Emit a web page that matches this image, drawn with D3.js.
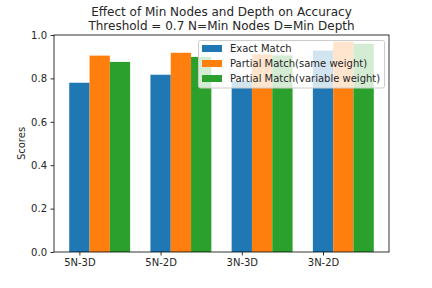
<!DOCTYPE html>
<html><head><meta charset="utf-8">
<script src="https://cdn.jsdelivr.net/npm/d3@7"></script>
<style>body{margin:0;background:#fff}svg{display:block;font-family:"DejaVu Sans",sans-serif}</style>
</head><body><svg id="c" width="432" height="288"></svg>
<script>
const categories = ["5N-3D", "5N-2D", "3N-3D", "3N-2D"];
const seriesNames = ["Exact Match", "Partial Match(same weight)", "Partial Match(variable weight)"];
const exactMatch = [0.780, 0.817, 0.789, 0.928];
const partialSame = [0.905, 0.918, 0.911, 0.969];
const partialVariable = [0.876, 0.899, 0.906, 0.960];
const colors = ["#1f77b4", "#ff7f0e", "#2ca02c"];
const yTicks = [0.0, 0.2, 0.4, 0.6, 0.8, 1.0];
const titleLines = ["Effect of Min Nodes and Depth on Accuracy", "Threshold = 0.7 N=Min Nodes D=Min Depth"];

const series = [exactMatch, partialSame, partialVariable];
const svg = d3.select("#c");
const L = 54, R = 389, T = 35, B = 252;
const w = 0.25;
const x = d3.scaleLinear().domain([-0.3125, 3.8125]).range([L, R]);
const y = d3.scaleLinear().domain([0, 1]).range([B, T]);

// bars
series.forEach((vals, s) => {
  svg.append("g").selectAll("rect").data(vals).join("rect")
    .attr("x", (d, i) => x(i + s * w - w / 2))
    .attr("width", (d, i) => x(i + s * w + w / 2) - x(i + s * w - w / 2))
    .attr("y", d => y(d))
    .attr("height", d => y(0) - y(d))
    .attr("fill", colors[s]);
});

// axes
const xAxis = d3.axisBottom(x).tickValues(categories.map((c, i) => i)).tickFormat((d) => categories[d]).tickSize(3.5).tickPadding(3.5);
const gx = svg.append("g").attr("transform", `translate(0,${B})`).call(xAxis);
const yAxis = d3.axisLeft(y).tickValues(yTicks).tickFormat(d3.format(".1f")).tickSize(3.5).tickPadding(3.5);
const gy = svg.append("g").attr("transform", `translate(${L},0)`).call(yAxis);
[gx, gy].forEach(g => {
  g.select(".domain").remove();
  g.selectAll("text").attr("font-size", 10).attr("fill", "#262626").attr("font-family", "DejaVu Sans");
  g.selectAll("line").attr("stroke", "#000").attr("stroke-width", 0.8);
});
svg.append("rect").attr("x", L).attr("y", T).attr("width", R - L).attr("height", B - T)
  .attr("fill", "none").attr("stroke", "#000").attr("stroke-width", 0.8);

// y label
svg.append("text").attr("transform", `translate(25,${(T + B) / 2}) rotate(-90)`)
  .attr("text-anchor", "middle").attr("font-size", 10).attr("fill", "#262626").text("Scores");

// title
titleLines.forEach((t, i) => {
  svg.append("text").attr("x", (L + R) / 2).attr("y", 15.5 + i * 14)
    .attr("text-anchor", "middle").attr("font-size", 12).attr("fill", "#262626").text(t);
});

// legend
const lg = svg.append("g");
lg.append("rect").attr("x", 198.5).attr("y", 40.5).attr("width", 186).attr("height", 47.5)
  .attr("rx", 2).attr("fill", "#fff").attr("fill-opacity", 0.8).attr("stroke", "#ccc").attr("stroke-width", 1);
seriesNames.forEach((n, i) => {
  const cy = 48.5 + i * 15;
  lg.append("rect").attr("x", 202).attr("y", cy - 3.5).attr("width", 20).attr("height", 7).attr("fill", colors[i]);
  lg.append("text").attr("x", 230).attr("y", cy + 3.6).attr("font-size", 10).attr("fill", "#262626").text(n);
});
</script></body></html>
